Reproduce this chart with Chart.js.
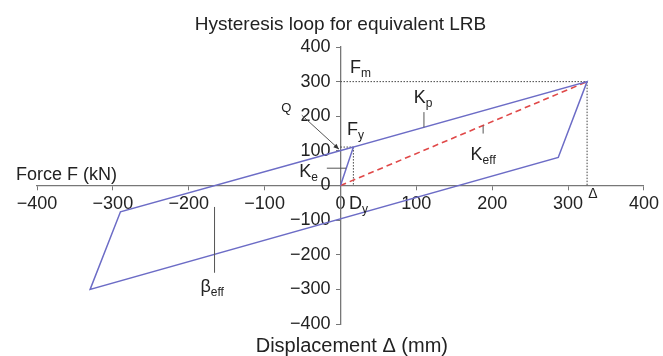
<!DOCTYPE html>
<html>
<head>
<meta charset="utf-8">
<script src="https://cdn.jsdelivr.net/npm/chart.js@4.4.0/dist/chart.umd.min.js"></script>
<style>
html, body { margin: 0; padding: 0; background: #fff; }
#wrap { width: 663px; height: 356px; }
</style>
</head>
<body>
<div id="wrap"><canvas id="loopChart"></canvas></div>
<script>
// hysteresis loop corners, displacement (mm) and force (kN)
const loopX = [0, 17, 325, 287, -330, -290, 17];
const loopY = [0, 111, 300, 81, -300, -76, 111];
// effective (secant) stiffness line
const effX = [0, 325];
const effY = [0, 300];
// dotted guides: Fm, Δ, Fy, Dy
const guideSegments = [
    [[0, 300], [325, 300]],
    [[325, 300], [325, 0]],
    [[0, 111], [17, 111]],
    [[17, 111], [17, 0]]
];
const xTicks = [-400, -300, -200, -100, 0, 100, 200, 300, 400];
const yTicks = [-400, -300, -200, -100, 0, 100, 200, 300, 400];

// annotation leaders (data coords)
const leaders = [
    [[110, 168], [110, 212]],     // Kp
    [[188, 173], [188, 150]],     // Keff
    [[-18, 50], [7.5, 50]],       // Ke
    [[-166, -62], [-166, -252]]   // beta eff
];
const qArrow = [[-51, 203], [-2, 105]];
// labels: main text, subscript, anchor (data coords, left/baseline)
const notes = [
    ['F', 'm', 12.5, 325],
    ['K', 'p', 96.6, 238],
    ['F', 'y', 8.5, 146],
    ['K', 'e', -54.5, 24.6],
    ['D', 'y', 11.2, -68],
    ['K', 'eff', 171.5, 73.7],
    ['\u03b2', 'eff', -184.6, -307]
];

const FONT = "'Liberation Sans', Arial, sans-serif";
const fmt = v => v < 0 ? '\u2212' + Math.abs(v) : String(v);
const pts = (xs, ys) => xs.map((x, i) => ({ x: x, y: ys[i] }));

const datasets = [
    {
        data: pts(loopX, loopY),
        borderColor: '#6c6cc6',
        borderWidth: 1.5
    },
    {
        data: pts(effX, effY),
        borderColor: '#e04848',
        borderWidth: 1.6,
        borderDash: [6, 4]
    }
];
guideSegments.forEach(seg => {
    datasets.push({
        data: seg.map(p => ({ x: p[0], y: p[1] })),
        borderColor: '#444',
        borderWidth: 1,
        borderDash: [1.5, 1.5]
    });
});
datasets.forEach(d => {
    d.showLine = true;
    d.pointRadius = 0;
    d.fill = false;
});

const annotate = {
    id: 'annotate',
    afterDatasetsDraw(chart) {
        const ctx = chart.ctx;
        const xs = chart.scales.x, ys = chart.scales.y;
        const px = v => xs.getPixelForValue(v), py = v => ys.getPixelForValue(v);
        const area = chart.chartArea;
        ctx.save();
        ctx.strokeStyle = '#555';
        ctx.lineWidth = 1;
        leaders.forEach(l => {
            ctx.beginPath();
            ctx.moveTo(px(l[0][0]), py(l[0][1]));
            ctx.lineTo(px(l[1][0]), py(l[1][1]));
            ctx.stroke();
        });
        // Q arrow
        const ax = px(qArrow[0][0]), ay = py(qArrow[0][1]);
        const bx = px(qArrow[1][0]), by = py(qArrow[1][1]);
        ctx.beginPath();
        ctx.moveTo(ax, ay);
        ctx.lineTo(bx, by);
        ctx.stroke();
        const ang = Math.atan2(by - ay, bx - ax);
        ctx.fillStyle = '#333';
        ctx.beginPath();
        ctx.moveTo(bx, by);
        ctx.lineTo(bx - 6 * Math.cos(ang - 0.4), by - 6 * Math.sin(ang - 0.4));
        ctx.lineTo(bx - 6 * Math.cos(ang + 0.4), by - 6 * Math.sin(ang + 0.4));
        ctx.closePath();
        ctx.fill();

        ctx.fillStyle = '#222';
        ctx.textBaseline = 'alphabetic';
        ctx.textAlign = 'left';
        notes.forEach(n => {
            const x = px(n[2]), y = py(n[3]);
            ctx.font = '18px ' + FONT;
            ctx.fillText(n[0], x, y);
            const w = ctx.measureText(n[0]).width;
            ctx.font = '12px ' + FONT;
            ctx.fillText(n[1], x + w, y + 4);
        });
        ctx.font = '13px ' + FONT;
        ctx.fillText('Q', px(-78), py(212));
        ctx.font = '14px ' + FONT;
        ctx.fillText('\u0394', px(326.5), py(-36));

        // titles
        ctx.textAlign = 'center';
        ctx.font = '19px ' + FONT;
        ctx.fillText('Hysteresis loop for equivalent LRB', (area.left + area.right) / 2, 30);
        ctx.font = '20px ' + FONT;
        ctx.fillText('Displacement \u0394 (mm)', px(15), 352);
        ctx.textAlign = 'left';
        ctx.font = '18px ' + FONT;
        ctx.fillText('Force F (kN)', 16, py(0) - 6);
        ctx.restore();
    }
};

new Chart(document.getElementById('loopChart'), {
    type: 'scatter',
    data: { datasets: datasets },
    options: {
        responsive: true,
        maintainAspectRatio: false,
        animation: false,
        layout: { padding: { left: 37, right: 17, top: 47, bottom: 32 } },
        plugins: { legend: { display: false }, tooltip: { enabled: false } },
        elements: { line: { tension: 0 } },
        scales: {
            x: {
                type: 'linear',
                min: -400, max: 400,
                position: { y: 0 },
                afterBuildTicks: s => { s.ticks = xTicks.map(v => ({ value: v })); },
                afterFit: s => { s.height = 0; },
                ticks: { callback: fmt, font: { size: 18, family: FONT }, color: '#222', padding: 4, maxRotation: 0, autoSkip: false },
                grid: { drawOnChartArea: false, drawTicks: true, tickLength: 4, color: '#777' },
                border: { display: true, color: '#777', width: 1.3 }
            },
            y: {
                type: 'linear',
                min: -400, max: 400,
                position: { x: 0 },
                afterBuildTicks: s => { s.ticks = yTicks.map(v => ({ value: v })); },
                afterFit: s => { s.width = 0; },
                // centred axis ignores padding, so trailing spaces keep labels off the line
                ticks: { callback: v => fmt(v) + '  ', font: { size: 18, family: FONT }, color: '#222', autoSkip: false },
                grid: { drawOnChartArea: false, drawTicks: true, tickLength: 4, color: '#777' },
                border: { display: true, color: '#777', width: 1.3 }
            }
        }
    },
    plugins: [annotate]
});
</script>
</body>
</html>
